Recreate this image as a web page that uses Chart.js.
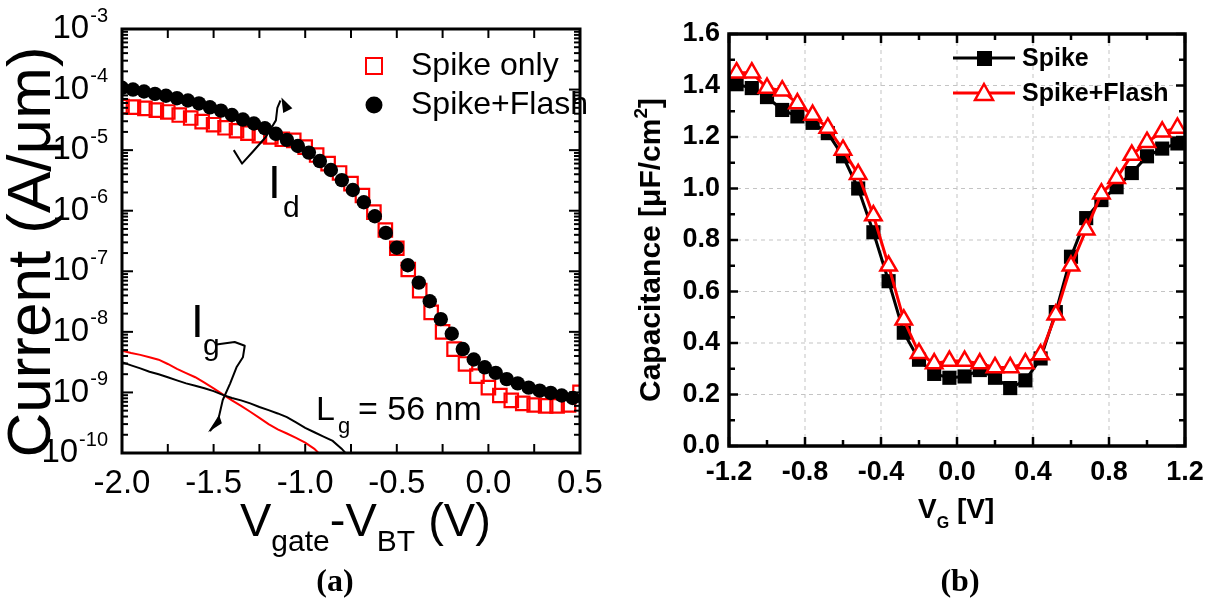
<!DOCTYPE html>
<html>
<head>
<meta charset="utf-8">
<script src="https://cdn.jsdelivr.net/npm/chart.js@4.4.1/dist/chart.umd.min.js"></script>
<style>
  body { margin: 0; background: #fff; }
  #wrap { position: relative; width: 1207px; height: 604px; background: #fff; }
  canvas { position: absolute; top: 0; }
  #chartA { left: 0; }
  #chartB { left: 603px; }
</style>
</head>
<body>
<div id="wrap">
  <canvas id="chartA" width="603" height="604"></canvas>
  <canvas id="chartB" width="604" height="604"></canvas>
</div>
<script>
// ---- (a) Id / Ig vs Vgate - VBT ----
const vSpikeFlash = [-2.00,-1.94,-1.88,-1.82,-1.76,-1.70,-1.64,-1.58,-1.52,-1.46,-1.40,-1.34,-1.28,-1.22,-1.16,-1.10,-1.04,-0.98,-0.92,-0.86,-0.80,-0.74,-0.68,-0.62,-0.56,-0.50,-0.44,-0.38,-0.32,-0.26,-0.20,-0.14,-0.08,-0.02,0.04,0.10,0.16,0.22,0.28,0.34,0.40,0.46];
const idSpikeFlash = [1.07e-4,1.00e-4,9.3e-5,8.5e-5,7.9e-5,7.2e-5,6.6e-5,5.9e-5,5.1e-5,4.5e-5,3.8e-5,3.2e-5,2.75e-5,2.3e-5,1.86e-5,1.48e-5,1.17e-5,9.1e-6,6.6e-6,4.7e-6,3.2e-6,2.2e-6,1.38e-6,8.1e-7,4.3e-7,2.45e-7,1.26e-7,6.5e-8,3.2e-8,1.62e-8,9.3e-9,5.2e-9,3.5e-9,2.6e-9,2.1e-9,1.66e-9,1.41e-9,1.2e-9,1.07e-9,9.8e-10,8.9e-10,8.1e-10];

const vSpikeOnly = [-2.0,-1.9375,-1.875,-1.8125,-1.75,-1.6875,-1.625,-1.5625,-1.5,-1.4375,-1.375,-1.3125,-1.25,-1.1875,-1.125,-1.0625,-1.0,-0.9375,-0.875,-0.8125,-0.75,-0.6875,-0.625,-0.5625,-0.5,-0.4375,-0.375,-0.3125,-0.25,-0.1875,-0.125,-0.0625,0,0.0625,0.125,0.1875,0.25,0.3125,0.375,0.4375,0.5];
const idSpikeOnly = [5.25e-5,5.13e-5,4.9e-5,4.57e-5,4.27e-5,3.8e-5,3.39e-5,2.95e-5,2.63e-5,2.34e-5,2.09e-5,1.91e-5,1.74e-5,1.66e-5,1.51e-5,1.45e-5,1.12e-5,8.3e-6,6.0e-6,4.2e-6,2.8e-6,1.78e-6,9.5e-7,4.8e-7,2.4e-7,1.07e-7,4.8e-8,2.1e-8,1.0e-8,5.2e-9,2.95e-9,1.86e-9,1.2e-9,8.9e-10,7.4e-10,6.6e-10,6.2e-10,6.0e-10,6.0e-10,6.2e-10,1.0e-9];

const vIgSpikeOnly = [-2.00,-1.95,-1.90,-1.85,-1.80,-1.75,-1.70,-1.65,-1.60,-1.55,-1.50,-1.45,-1.40,-1.35,-1.30,-1.25,-1.20,-1.15,-1.10,-1.05,-1.00,-0.95,-0.90];
const igSpikeOnly = [4.9e-9,4.47e-9,4.17e-9,3.8e-9,3.47e-9,2.95e-9,2.45e-9,2.09e-9,1.78e-9,1.45e-9,1.17e-9,9.3e-10,7.4e-10,6.0e-10,4.8e-10,3.8e-10,3.0e-10,2.45e-10,2.1e-10,1.78e-10,1.48e-10,1.17e-10,8.3e-11];
const vIgSpikeFlash = [-2.00,-1.95,-1.90,-1.85,-1.80,-1.75,-1.70,-1.65,-1.60,-1.55,-1.50,-1.45,-1.40,-1.35,-1.30,-1.25,-1.20,-1.15,-1.10,-1.05,-1.00,-0.95,-0.90,-0.85,-0.80,-0.75];
const igSpikeFlash = [3.16e-9,2.8e-9,2.5e-9,2.2e-9,2.0e-9,1.78e-9,1.58e-9,1.41e-9,1.29e-9,1.17e-9,1.05e-9,9.1e-10,8.1e-10,7.4e-10,6.6e-10,5.75e-10,5.1e-10,4.5e-10,3.9e-10,3.2e-10,2.6e-10,2.2e-10,1.86e-10,1.58e-10,1.17e-10,7.9e-11];

const xTicksA = ['-2.0','-1.5','-1.0','-0.5','0.0','0.5'];
const decadesA = [-10,-9,-8,-7,-6,-5,-4,-3];

// ---- (b) C-V ----
const vg = [-1.16,-1.08,-1.00,-0.92,-0.84,-0.76,-0.68,-0.60,-0.52,-0.44,-0.36,-0.28,-0.20,-0.12,-0.04,0.04,0.12,0.20,0.28,0.36,0.44,0.52,0.60,0.68,0.76,0.84,0.92,1.00,1.08,1.16];
const capSpike = [1.405,1.39,1.355,1.305,1.28,1.255,1.215,1.125,1.0,0.83,0.64,0.44,0.335,0.28,0.265,0.27,0.295,0.265,0.225,0.255,0.34,0.52,0.735,0.885,0.955,1.005,1.06,1.125,1.155,1.175];
const capSpikeFlash = [1.45,1.45,1.39,1.38,1.33,1.285,1.235,1.15,1.055,0.895,0.70,0.49,0.36,0.32,0.33,0.33,0.32,0.305,0.305,0.32,0.355,0.51,0.70,0.84,0.98,1.04,1.13,1.18,1.22,1.235];

const xTicksB = ['-1.2','-0.8','-0.4','0.0','0.4','0.8','1.2'];
const yTicksB = ['0.0','0.2','0.4','0.6','0.8','1.0','1.2','1.4','1.6'];

const SANS = '"Liberation Sans", Arial, sans-serif';
const SERIF = '"Liberation Serif", "Times New Roman", serif';
const RED = '#ff0000';

const pts = (xs, ys) => xs.map((x, i) => ({ x, y: ys[i] }));

function line(ctx, x1, y1, x2, y2) {
  ctx.beginPath(); ctx.moveTo(x1, y1); ctx.lineTo(x2, y2); ctx.stroke();
}

function text(ctx, s, x, y, size, o = {}) {
  ctx.font = `${o.bold ? 'bold ' : ''}${size}px ${o.family || SANS}`;
  ctx.textAlign = o.align || 'left';
  ctx.textBaseline = o.base || 'alphabetic';
  ctx.fillStyle = o.color || '#000';
  ctx.fillText(s, x, y);
  return ctx.measureText(s).width;
}

// draw a polyline given in data coords
function squiggle(ctx, chart, path) {
  const { x, y } = chart.scales;
  ctx.beginPath();
  path.forEach(([v, i], k) => {
    const px = x.getPixelForValue(v), py = y.getPixelForValue(i);
    k ? ctx.lineTo(px, py) : ctx.moveTo(px, py);
  });
}

// Panel (a) decorations
const panelA = {
  id: 'panelA',
  afterDraw(chart) {
    const { ctx, chartArea: a, scales: { x, y } } = chart;
    ctx.save();
    ctx.strokeStyle = '#000';
    ctx.lineWidth = 2;
    // x ticks every 0.25
    for (let k = 0; k <= 10; k++) {
      const px = x.getPixelForValue(-2 + k * 0.25);
      line(ctx, px, a.bottom, px, a.bottom - 9);
      line(ctx, px, a.top, px, a.top + 9);
    }
    // log ticks
    decadesA.forEach(d => {
      for (let m = 1; m <= 9; m++) {
        const v = m * Math.pow(10, d);
        if (v > 1.0001e-3) break;
        const py = y.getPixelForValue(v);
        const len = m === 1 ? 11 : 6;
        line(ctx, a.left, py, a.left + len, py);
        line(ctx, a.right, py, a.right - len, py);
      }
    });
    ctx.lineWidth = 3;
    ctx.strokeRect(a.left, a.top, a.right - a.left, a.bottom - a.top);

    // tick labels
    xTicksA.forEach(t => text(ctx, t, x.getPixelForValue(parseFloat(t)), 484, 33, { align: 'center', base: 'middle' }));
    decadesA.forEach(d => {
      const py = y.getPixelForValue(Math.pow(10, d));
      ctx.font = `20px ${SANS}`;
      const ws = ctx.measureText(String(d)).width;
      const right = 108;
      text(ctx, String(d), right, py - 13, 20, { align: 'right', base: 'middle' });
      text(ctx, '10', right - ws - 1, py, 33, { align: 'right', base: 'middle' });
    });

    // axis titles
    ctx.save();
    ctx.translate(50, 252);
    ctx.rotate(-Math.PI / 2);
    text(ctx, 'Current (A/\u03bcm)', 0, 0, 62, { align: 'center' });
    ctx.restore();
    let cx = 240;
    cx += text(ctx, 'V', cx, 536, 47);
    cx += text(ctx, 'gate', cx, 551, 30);
    cx += text(ctx, '-V', cx, 536, 47);
    cx += text(ctx, 'BT', cx, 551, 30);
    text(ctx, ' (V)', cx, 536, 47);
    text(ctx, '(a)', 335, 591, 32, { bold: true, family: SERIF, align: 'center' });

    // legend
    ctx.strokeStyle = RED; ctx.lineWidth = 2;
    ctx.strokeRect(366, 58, 16, 16);
    text(ctx, 'Spike only', 411, 66, 32, { base: 'middle' });
    ctx.fillStyle = '#000';
    ctx.beginPath(); ctx.arc(374, 105, 8.5, 0, Math.PI * 2); ctx.fill();
    text(ctx, 'Spike+Flash', 411, 105, 32, { base: 'middle' });

    // curve labels
    text(ctx, 'I', 268, 198, 46);
    text(ctx, 'd', 283, 217, 30);
    text(ctx, 'I', 191, 337, 46);
    text(ctx, 'g', 203, 355, 30);
    text(ctx, 'L', 316, 420, 34);
    text(ctx, 'g', 338, 433, 22);
    text(ctx, '= 56 nm', 358, 420, 34);

    // bracket arrows
    ctx.strokeStyle = '#000'; ctx.lineWidth = 2; ctx.lineJoin = 'round';
    squiggle(ctx, chart, [[-1.39, 1.0e-5], [-1.345, 6.0e-6], [-1.285, 9.5e-6], [-1.215, 1.65e-5], [-1.16, 3.1e-5], [-1.152, 5.0e-5], [-1.135, 6.6e-5]]);
    ctx.stroke();
    squiggle(ctx, chart, [[-1.13, 7.4e-5], [-1.07, 4.9e-5], [-1.12, 4.1e-5]]);
    ctx.fillStyle = '#000'; ctx.closePath(); ctx.fill();
    squiggle(ctx, chart, [[-1.485, 6.2e-9], [-1.385, 6.8e-9], [-1.33, 5.9e-9], [-1.34, 3.8e-9], [-1.375, 2.6e-9], [-1.41, 1.4e-9], [-1.45, 7.5e-10], [-1.475, 3.5e-10], [-1.52, 2.3e-10]]);
    ctx.stroke();
    squiggle(ctx, chart, [[-1.53, 2.2e-10], [-1.455, 3.1e-10], [-1.47, 4.3e-10]]);
    ctx.closePath(); ctx.fill();
    ctx.restore();
  }
};

// Panel (b) decorations
const panelB = {
  id: 'panelB',
  beforeDatasetsDraw(chart) {
    const { ctx, chartArea: a, scales: { x, y } } = chart;
    ctx.save();
    ctx.strokeStyle = '#c4c4c4'; ctx.lineWidth = 1; ctx.setLineDash([4, 4]);
    xTicksB.slice(1, -1).forEach(t => { const px = x.getPixelForValue(parseFloat(t)); line(ctx, px, a.top, px, a.bottom); });
    yTicksB.slice(1, -1).forEach(t => { const py = y.getPixelForValue(parseFloat(t)); line(ctx, a.left, py, a.right, py); });
    ctx.restore();
  },
  afterDraw(chart) {
    const { ctx, chartArea: a, scales: { x, y } } = chart;
    ctx.save();
    ctx.strokeStyle = '#000'; ctx.lineWidth = 2.5;
    for (let k = 0; k <= 12; k++) {
      const px = x.getPixelForValue(-1.2 + k * 0.2), len = k % 2 ? 6 : 9;
      line(ctx, px, a.bottom, px, a.bottom - len);
      line(ctx, px, a.top, px, a.top + len);
    }
    for (let k = 0; k <= 16; k++) {
      const py = y.getPixelForValue(k * 0.1), len = k % 2 ? 6 : 9;
      line(ctx, a.left, py, a.left + len, py);
      line(ctx, a.right, py, a.right - len, py);
    }
    ctx.lineWidth = 3.5;
    ctx.strokeRect(a.left, a.top, a.right - a.left, a.bottom - a.top);

    xTicksB.forEach(t => text(ctx, t, x.getPixelForValue(parseFloat(t)), 473, 27, { bold: true, align: 'center', base: 'middle' }));
    yTicksB.forEach(t => text(ctx, t, a.left - 9, y.getPixelForValue(parseFloat(t)), 27, { bold: true, align: 'right', base: 'middle' }));

    // axis titles
    ctx.save();
    ctx.translate(57, 250);
    ctx.rotate(-Math.PI / 2);
    ctx.font = `bold 30px ${SANS}`;
    const w1 = ctx.measureText('Capacitance [\u03bcF/cm').width;
    ctx.font = `bold 19px ${SANS}`;
    const w2 = ctx.measureText('2').width;
    ctx.font = `bold 30px ${SANS}`;
    const w3 = ctx.measureText(']').width;
    let sx = -(w1 + w2 + w3) / 2;
    sx += text(ctx, 'Capacitance [\u03bcF/cm', sx, 0, 30, { bold: true });
    sx += text(ctx, '2', sx, -13, 19, { bold: true });
    text(ctx, ']', sx, 0, 30, { bold: true });
    ctx.restore();
    let cx = 315;
    cx += text(ctx, 'V', cx, 518, 28, { bold: true });
    cx += text(ctx, 'G', cx, 528, 16, { bold: true });
    text(ctx, ' [V]', cx, 518, 28, { bold: true });
    text(ctx, '(b)', 357, 591, 32, { bold: true, family: SERIF, align: 'center' });

    // legend
    ctx.lineWidth = 3;
    ctx.strokeStyle = '#000';
    line(ctx, 350, 58, 412, 58);
    ctx.fillStyle = '#000';
    ctx.fillRect(374, 51, 15, 15);
    text(ctx, 'Spike', 419, 59, 25, { bold: true, base: 'middle' });
    ctx.strokeStyle = RED;
    line(ctx, 350, 93, 412, 93);
    ctx.beginPath();
    ctx.moveTo(381, 84); ctx.lineTo(390, 100); ctx.lineTo(372, 100); ctx.closePath();
    ctx.fillStyle = '#fff'; ctx.fill(); ctx.lineWidth = 2.5; ctx.stroke();
    text(ctx, 'Spike+Flash', 419, 94, 25, { bold: true, base: 'middle' });
    ctx.restore();
  }
};

const hidden = { display: false };

new Chart(document.getElementById('chartA'), {
  type: 'scatter',
  data: {
    datasets: [
      { label: 'Spike+Flash', data: pts(vSpikeFlash, idSpikeFlash), order: 0,
        pointStyle: 'circle', pointRadius: 7.2, backgroundColor: '#000', borderColor: '#000', borderWidth: 0 },
      { label: 'Spike only', data: pts(vSpikeOnly, idSpikeOnly), order: 1,
        pointStyle: 'rect', pointRadius: 9.5, backgroundColor: 'rgba(0,0,0,0)', borderColor: RED, borderWidth: 2.2 },
      { label: 'Ig Spike+Flash', data: pts(vIgSpikeFlash, igSpikeFlash), order: 2, showLine: true,
        pointRadius: 0, borderColor: '#000', borderWidth: 2 },
      { label: 'Ig Spike only', data: pts(vIgSpikeOnly, igSpikeOnly), order: 3, showLine: true,
        pointRadius: 0, borderColor: RED, borderWidth: 2 }
    ]
  },
  options: {
    responsive: false,
    animation: false,
    layout: { padding: { left: 122, right: 23, top: 29, bottom: 151 } },
    plugins: { legend: { display: false }, tooltip: { enabled: false } },
    scales: {
      x: { type: 'linear', min: -2, max: 0.5, ...hidden },
      y: { type: 'logarithmic', min: 1e-10, max: 1e-3, ...hidden }
    }
  },
  plugins: [panelA]
});

new Chart(document.getElementById('chartB'), {
  type: 'scatter',
  data: {
    datasets: [
      { label: 'Spike+Flash', data: pts(vg, capSpikeFlash), order: 0, showLine: true,
        borderColor: RED, borderWidth: 3, pointStyle: 'triangle', pointRadius: 9.5,
        pointBackgroundColor: '#fff', pointBorderColor: RED, pointBorderWidth: 2.5 },
      { label: 'Spike', data: pts(vg, capSpike), order: 1, showLine: true,
        borderColor: '#000', borderWidth: 3, pointStyle: 'rect', pointRadius: 10,
        pointBackgroundColor: '#000', pointBorderColor: '#000', pointBorderWidth: 0 }
    ]
  },
  options: {
    responsive: false,
    animation: false,
    layout: { padding: { left: 126, right: 22, top: 34, bottom: 158 } },
    plugins: { legend: { display: false }, tooltip: { enabled: false } },
    scales: {
      x: { type: 'linear', min: -1.2, max: 1.2, ...hidden },
      y: { type: 'linear', min: 0, max: 1.6, ...hidden }
    }
  },
  plugins: [panelB]
});
</script>
</body>
</html>
